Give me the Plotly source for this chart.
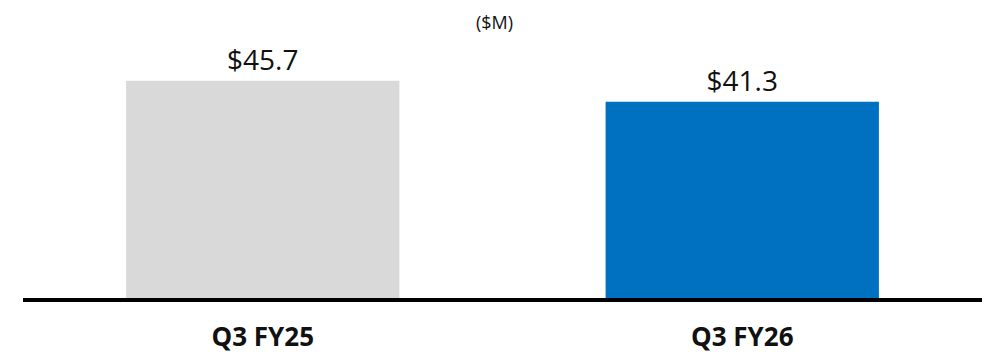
import plotly.graph_objects as go

# Quarterly figures ($M)
quarters = ["Q3 FY25", "Q3 FY26"]
values = [45.7, 41.3]
bar_colors = ["#D9D9D9", "#0070C0"]
value_labels = [f"${v:.1f}" for v in values]

FONT = "Open Sans, Calibri, Arial, sans-serif"

PLOT_TOP = 40
PLOT_H = 258

fig = go.Figure(
    go.Bar(
        x=quarters,
        y=values,
        marker=dict(color=bar_colors, line=dict(width=0)),
        text=value_labels,
        textposition="outside",
        textfont=dict(family=FONT, size=28, color="#111111"),
        cliponaxis=False,
        hoverinfo="skip",
    )
)

fig.update_layout(
    width=987,
    height=358,
    margin=dict(l=23, r=5, t=PLOT_TOP, b=60, autoexpand=False),
    paper_bgcolor="white",
    plot_bgcolor="white",
    bargap=0.43,
    showlegend=False,
    font=dict(family=FONT, color="#111111"),
    annotations=[
        dict(
            text="($M)",
            x=0.492, xref="paper",
            y=1 + (PLOT_TOP - 22) / PLOT_H, yref="paper", yanchor="middle",
            showarrow=False,
            font=dict(family=FONT, size=18, color="#111111"),
        )
    ],
)

fig.update_xaxes(
    automargin=False,
    showline=True,
    linecolor="black",
    linewidth=4,
    showgrid=False,
    ticks="",
    ticklabelstandoff=13,
    tickfont=dict(family=FONT, size=26, color="#111111", weight="bold"),
)
fig.update_yaxes(
    automargin=False,
    range=[0, 54.3],
    visible=False,
    showgrid=False,
    zeroline=False,
)

fig.write_html("out.html")
